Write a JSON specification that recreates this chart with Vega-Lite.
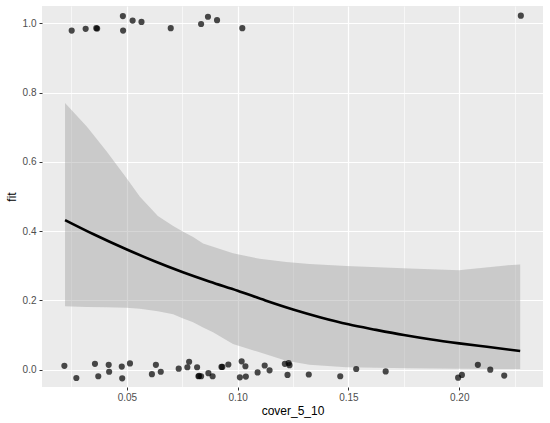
{
  "$schema": "https://vega.github.io/schema/vega-lite/v6.json",
  "autosize": {"type": "none"},
  "padding": {"left": 42, "top": 6, "right": 7, "bottom": 36},
  "width": 501,
  "height": 381,
  "background": "white",
  "config": {
    "view": {"fill": "#EBEBEB", "stroke": null},
    "font": "Liberation Sans",
    "axis": {
      "domain": false,
      "gridColor": "#FFFFFF",
      "labelFont": "Liberation Sans",
      "titleFont": "Liberation Sans",
      "labelColor": "#4D4D4D",
      "labelFontSize": 10,
      "titleFontSize": 12,
      "titleFontWeight": "normal",
      "titleColor": "#000000",
      "tickSize": 3,
      "tickWidth": 1
    }
  },
  "datasets": {
    "pts": [
      {"cover_5_10": 0.0251, "y": 0.979}, {"cover_5_10": 0.0314, "y": 0.984}, {"cover_5_10": 0.0362, "y": 0.986},
      {"cover_5_10": 0.0366, "y": 0.985}, {"cover_5_10": 0.0482, "y": 1.021}, {"cover_5_10": 0.0483, "y": 0.979},
      {"cover_5_10": 0.0526, "y": 1.008}, {"cover_5_10": 0.0566, "y": 1.004}, {"cover_5_10": 0.0698, "y": 0.986},
      {"cover_5_10": 0.0835, "y": 0.998}, {"cover_5_10": 0.0866, "y": 1.019}, {"cover_5_10": 0.0907, "y": 1.009},
      {"cover_5_10": 0.1021, "y": 0.986}, {"cover_5_10": 0.2278, "y": 1.022},
      {"cover_5_10": 0.0218, "y": 0.011}, {"cover_5_10": 0.0272, "y": -0.024}, {"cover_5_10": 0.0356, "y": 0.017},
      {"cover_5_10": 0.0371, "y": -0.019}, {"cover_5_10": 0.0418, "y": 0.014}, {"cover_5_10": 0.0420, "y": -0.006},
      {"cover_5_10": 0.0477, "y": 0.009}, {"cover_5_10": 0.0479, "y": -0.025}, {"cover_5_10": 0.0514, "y": 0.018},
      {"cover_5_10": 0.0613, "y": -0.013}, {"cover_5_10": 0.0631, "y": 0.014}, {"cover_5_10": 0.0653, "y": -0.006},
      {"cover_5_10": 0.0734, "y": 0.003}, {"cover_5_10": 0.0773, "y": 0.007}, {"cover_5_10": 0.0781, "y": 0.023},
      {"cover_5_10": 0.0817, "y": 0.007}, {"cover_5_10": 0.0823, "y": -0.019}, {"cover_5_10": 0.0826, "y": -0.018},
      {"cover_5_10": 0.0835, "y": -0.019}, {"cover_5_10": 0.0868, "y": -0.010}, {"cover_5_10": 0.0887, "y": -0.019},
      {"cover_5_10": 0.0927, "y": 0.008}, {"cover_5_10": 0.0931, "y": 0.008}, {"cover_5_10": 0.0958, "y": 0.015},
      {"cover_5_10": 0.1018, "y": 0.024}, {"cover_5_10": 0.1035, "y": 0.010}, {"cover_5_10": 0.1010, "y": -0.022},
      {"cover_5_10": 0.1037, "y": -0.020}, {"cover_5_10": 0.1090, "y": -0.008}, {"cover_5_10": 0.1122, "y": 0.012},
      {"cover_5_10": 0.1144, "y": -0.002}, {"cover_5_10": 0.1213, "y": 0.017}, {"cover_5_10": 0.1230, "y": 0.019},
      {"cover_5_10": 0.1234, "y": 0.013}, {"cover_5_10": 0.1225, "y": -0.015}, {"cover_5_10": 0.1321, "y": -0.014},
      {"cover_5_10": 0.1463, "y": -0.019}, {"cover_5_10": 0.1535, "y": 0.002}, {"cover_5_10": 0.1668, "y": -0.005},
      {"cover_5_10": 0.1995, "y": -0.023}, {"cover_5_10": 0.2012, "y": -0.015}, {"cover_5_10": 0.2084, "y": 0.014},
      {"cover_5_10": 0.2140, "y": 0.000}, {"cover_5_10": 0.2203, "y": -0.017}
    ],
    "band": [
      {"cover_5_10": 0.0221, "lower": 0.183, "upper": 0.770},
      {"cover_5_10": 0.0319, "lower": 0.181, "upper": 0.702},
      {"cover_5_10": 0.0409, "lower": 0.180, "upper": 0.630},
      {"cover_5_10": 0.0499, "lower": 0.179, "upper": 0.553},
      {"cover_5_10": 0.0559, "lower": 0.176, "upper": 0.499},
      {"cover_5_10": 0.0640, "lower": 0.169, "upper": 0.444},
      {"cover_5_10": 0.0709, "lower": 0.160, "upper": 0.415},
      {"cover_5_10": 0.0754, "lower": 0.148, "upper": 0.398},
      {"cover_5_10": 0.0799, "lower": 0.137, "upper": 0.383},
      {"cover_5_10": 0.0844, "lower": 0.122, "upper": 0.364},
      {"cover_5_10": 0.0889, "lower": 0.108, "upper": 0.355},
      {"cover_5_10": 0.0979, "lower": 0.074, "upper": 0.336},
      {"cover_5_10": 0.1099, "lower": 0.050, "upper": 0.320},
      {"cover_5_10": 0.1219, "lower": 0.026, "upper": 0.311},
      {"cover_5_10": 0.1324, "lower": 0.014, "upper": 0.305},
      {"cover_5_10": 0.1490, "lower": 0.007, "upper": 0.299},
      {"cover_5_10": 0.1775, "lower": 0.004, "upper": 0.292},
      {"cover_5_10": 0.2000, "lower": 0.003, "upper": 0.287},
      {"cover_5_10": 0.2030, "lower": 0.003, "upper": 0.289},
      {"cover_5_10": 0.2210, "lower": 0.002, "upper": 0.301},
      {"cover_5_10": 0.2275, "lower": 0.002, "upper": 0.304}
    ],
    "line": [
      {"cover_5_10": 0.0221, "fit": 0.432}, {"cover_5_10": 0.035, "fit": 0.391}, {"cover_5_10": 0.05, "fit": 0.347},
      {"cover_5_10": 0.0625, "fit": 0.313}, {"cover_5_10": 0.075, "fit": 0.282}, {"cover_5_10": 0.0875, "fit": 0.254},
      {"cover_5_10": 0.10, "fit": 0.228}, {"cover_5_10": 0.1125, "fit": 0.200}, {"cover_5_10": 0.125, "fit": 0.174},
      {"cover_5_10": 0.1375, "fit": 0.151}, {"cover_5_10": 0.15, "fit": 0.131}, {"cover_5_10": 0.1625, "fit": 0.115},
      {"cover_5_10": 0.175, "fit": 0.100}, {"cover_5_10": 0.1875, "fit": 0.087}, {"cover_5_10": 0.20, "fit": 0.076},
      {"cover_5_10": 0.2125, "fit": 0.066}, {"cover_5_10": 0.2275, "fit": 0.054}
    ]
  },
  "layer": [
    {
      "data": {"name": "band"},
      "mark": {"type": "area", "color": "#999999", "opacity": 0.4},
      "encoding": {
        "x": {
          "field": "cover_5_10", "type": "quantitative",
          "scale": {"domain": [0.0117, 0.2378], "nice": false, "zero": false},
          "axis": {
            "title": "cover_5_10",
            "values": [0.025, 0.05, 0.075, 0.1, 0.125, 0.15, 0.175, 0.2, 0.225],
            "labelExpr": "abs(round(datum.value*40)) % 2 == 1 ? '' : format(datum.value, '.2f')",
            "gridWidth": {"condition": {"test": "abs(round(datum.value*40)) % 2 == 1", "value": 0.6}, "value": 1.2},
            "tickColor": {"condition": {"test": "abs(round(datum.value*40)) % 2 == 1", "value": "transparent"}, "value": "#333333"},
            "labelPadding": 2,
            "titlePadding": 3
          }
        },
        "y": {
          "field": "lower", "type": "quantitative",
          "scale": {"domain": [-0.05, 1.05], "nice": false, "zero": false},
          "axis": {
            "title": "fit",
            "values": [0, 0.1, 0.2, 0.3, 0.4, 0.5, 0.6, 0.7, 0.8, 0.9, 1.0],
            "labelExpr": "round(datum.value*10) % 2 == 1 ? '' : format(datum.value, '.1f')",
            "gridWidth": {"condition": {"test": "round(datum.value*10) % 2 == 1", "value": 0.6}, "value": 1.2},
            "tickColor": {"condition": {"test": "round(datum.value*10) % 2 == 1", "value": "transparent"}, "value": "#333333"},
            "labelPadding": 3,
            "titlePadding": 4
          }
        },
        "y2": {"field": "upper"}
      }
    },
    {
      "data": {"name": "line"},
      "mark": {"type": "line", "color": "#000000", "strokeWidth": 2.6, "interpolate": "monotone"},
      "encoding": {
        "x": {"field": "cover_5_10", "type": "quantitative"},
        "y": {"field": "fit", "type": "quantitative"}
      }
    },
    {
      "data": {"name": "pts"},
      "mark": {"type": "circle", "color": "#000000", "opacity": 0.7, "size": 38},
      "encoding": {
        "x": {"field": "cover_5_10", "type": "quantitative"},
        "y": {"field": "y", "type": "quantitative"}
      }
    }
  ]
}
